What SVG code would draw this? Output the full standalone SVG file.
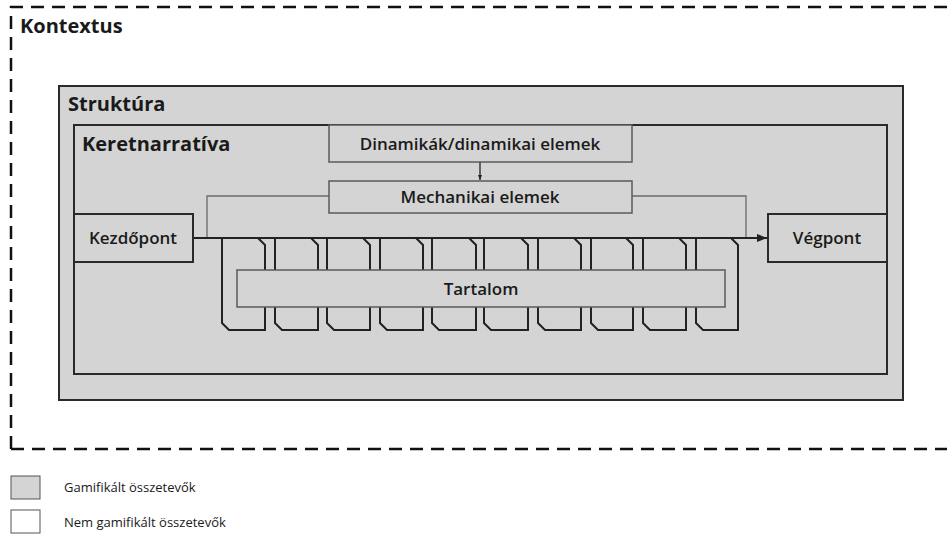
<svg xmlns="http://www.w3.org/2000/svg" width="947" height="534" viewBox="0 0 947 534">
<defs>
<style>
.t{font-family:"Open Sans","Liberation Sans",sans-serif;fill:#1a1a1a}
.h{font-weight:700;font-size:20px}
.l{font-weight:600;font-size:17px;text-anchor:middle}
.g{fill:#d4d4d4}
.dark{stroke:#2a2a2a;stroke-width:2}
.soft{stroke:#5a5a5a;stroke-width:1.5}
.loop{fill:none;stroke:#222;stroke-width:2}
.thin{fill:none;stroke:#6a6a6a;stroke-width:1.3}
.leg{font-size:13px;font-weight:400}
</style>
<marker id="ah" viewBox="0 0 10 10" refX="10" refY="5" markerWidth="5" markerHeight="5" orient="auto" markerUnits="userSpaceOnUse">
<path d="M0,1 L10,5 L0,9 Z" fill="#222"/>
</marker>
<marker id="ah2" viewBox="0 0 10 10" refX="10" refY="5" markerWidth="10" markerHeight="10" orient="auto" markerUnits="userSpaceOnUse">
<path d="M0,1 L10,5 L0,9 Z" fill="#222"/>
</marker>
</defs>
<rect width="947" height="534" fill="#fff"/>
<g id="kontextus">
<path d="M11,449 V7 H960 M11,449 H960" fill="none" stroke="#111" stroke-width="2.5" stroke-dasharray="13 8"/>
<text class="t h" x="20" y="33">Kontextus</text>
</g>
<g id="struktura">
<rect class="g dark" x="59" y="86" width="844" height="314"/>
<text class="t h" x="68" y="111">Struktúra</text>
</g>
<g id="keretnarrativa">
<rect class="g dark" x="74" y="125" width="813" height="249"/>
<text class="t h" x="82" y="151">Keretnarratíva</text>
</g>
<g id="connectors">
<path class="thin" d="M329,196 H207 V238 M632,196 H746 V238"/>
<line x1="480" y1="162" x2="480" y2="180" stroke="#222" stroke-width="1.3" marker-end="url(#ah)"/>
<line x1="193" y1="238" x2="767" y2="238" stroke="#222" stroke-width="2" marker-end="url(#ah2)"/>
<path class="loop" d="M222,238 V323 L229,330 H265 V245 L258,238"/>
<path class="loop" d="M275,238 V323 L282,330 H318 V245 L311,238"/>
<path class="loop" d="M327,238 V323 L334,330 H370 V245 L363,238"/>
<path class="loop" d="M380,238 V323 L387,330 H423 V245 L416,238"/>
<path class="loop" d="M432,238 V323 L439,330 H476 V245 L469,238"/>
<path class="loop" d="M484,238 V323 L491,330 H528 V245 L521,238"/>
<path class="loop" d="M538,238 V323 L545,330 H581 V245 L574,238"/>
<path class="loop" d="M591,238 V323 L598,330 H633 V245 L626,238"/>
<path class="loop" d="M643,238 V323 L650,330 H686 V245 L679,238"/>
<path class="loop" d="M696,238 V323 L703,330 H738 V245 L731,238"/>
</g>
<g id="dinamikak">
<rect class="g soft" x="329" y="125" width="303" height="37"/>
<text class="t l" x="480" y="150">Dinamikák/dinamikai elemek</text>
</g>
<g id="mechanikai">
<rect class="g soft" x="329" y="181" width="303" height="32"/>
<text class="t l" x="480" y="203">Mechanikai elemek</text>
</g>
<g id="kezdopont">
<rect class="g dark" x="74" y="214" width="119" height="48"/>
<text class="t l" x="133" y="244">Kezdőpont</text>
</g>
<g id="vegpont">
<rect class="g dark" x="768" y="214" width="119" height="48"/>
<text class="t l" x="827" y="244">Végpont</text>
</g>
<g id="tartalom">
<rect class="g soft" x="237" y="270" width="488" height="37"/>
<text class="t l" x="481" y="295">Tartalom</text>
</g>
<g id="legend">
<rect x="11" y="476" width="29" height="23" fill="#d4d4d4" stroke="#555" stroke-width="1"/>
<text class="t leg" x="64" y="492">Gamifikált összetevők</text>
<rect x="11" y="510" width="29" height="23" fill="#fff" stroke="#555" stroke-width="1"/>
<text class="t leg" x="64" y="527">Nem gamifikált összetevők</text>
</g>
</svg>
